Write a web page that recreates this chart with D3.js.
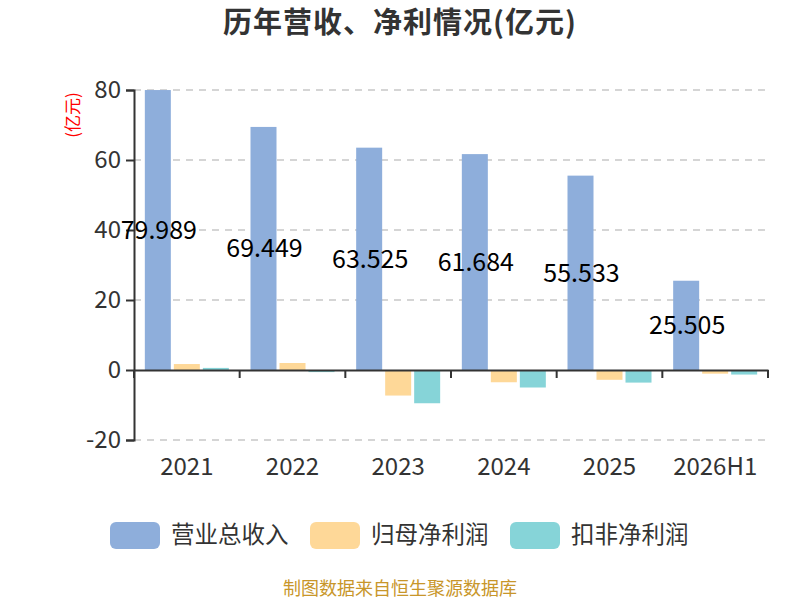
<!DOCTYPE html>
<html>
<head>
<meta charset="utf-8">
<script src="https://cdn.jsdelivr.net/npm/d3@7/dist/d3.min.js"></script>
<style>
body { margin: 0; background: #fff; }
text { font-family: "Noto Sans CJK SC", "Noto Sans", sans-serif; }
</style>
</head>
<body>
<div class="data_figure"></div>
<script>
const years = ["2021", "2022", "2023", "2024", "2025", "2026H1"];
const revenue = [79.989, 69.449, 63.525, 61.684, 55.533, 25.505];
const netProfit = [1.7, 2.0, -7.3, -3.5, -2.8, -1.05];
const deductedProfit = [0.6, -0.6, -9.5, -5.0, -3.6, -1.3];
const yTicks = [-20, 0, 20, 40, 60, 80];

const seriesNames = ["营业总收入", "归母净利润", "扣非净利润"];
const seriesColors = ["#8eaedb", "#fed898", "#86d4d8"];

const width = 800, height = 600;
const margin = { top: 90, bottom: 160, left: 134, right: 32 };

const series = [revenue, netProfit, deductedProfit];

const svg = d3.select(".data_figure")
    .append("svg")
    .attr("width", width)
    .attr("height", height);

const xScale = d3.scaleBand()
    .domain(years)
    .range([margin.left, width - margin.right]);

const yScale = d3.scaleLinear()
    .domain([-20, 80])
    .range([height - margin.bottom, margin.top]);

const barW = 26, barGap = 3;
const groupOffset = (xScale.bandwidth() - 3 * barW - 2 * barGap) / 2;

// gridlines
svg.append("g")
    .selectAll("line")
    .data(yTicks)
    .enter()
    .append("line")
    .attr("x1", margin.left)
    .attr("x2", width - margin.right)
    .attr("y1", d => yScale(d))
    .attr("y2", d => yScale(d))
    .attr("stroke", d => d === 0 ? "none" : "#c8c8c8")
    .attr("stroke-width", 1.5)
    .attr("stroke-dasharray", "7,6");

// bars
series.forEach((vals, si) => {
    svg.append("g")
        .selectAll("rect")
        .data(vals)
        .enter()
        .append("rect")
        .attr("x", (d, i) => xScale(years[i]) + groupOffset + si * (barW + barGap))
        .attr("y", d => yScale(Math.max(d, 0)))
        .attr("width", barW)
        .attr("height", d => Math.abs(yScale(d) - yScale(0)))
        .attr("fill", seriesColors[si]);
});

// y axis
const yAxis = svg.append("g")
    .attr("transform", "translate(" + margin.left + ",0)")
    .call(d3.axisLeft(yScale).tickValues(yTicks).tickSize(8).tickPadding(5)
        .tickFormat(d => String(d)));
yAxis.select(".domain").attr("stroke", "#333").attr("stroke-width", 2);
yAxis.selectAll(".tick line").attr("stroke", "#333").attr("stroke-width", 2);
yAxis.selectAll(".tick text")
    .attr("fill", "#333")
    .style("font-size", "24px")
    .style("font-family", "'Noto Sans CJK SC', sans-serif");

// x axis at zero
const xAxis = svg.append("g")
    .attr("transform", "translate(0," + yScale(0) + ")")
    .call(d3.axisBottom(xScale).tickSize(0).tickFormat(""));
xAxis.select(".domain").attr("stroke", "#333").attr("stroke-width", 2);

svg.append("g")
    .selectAll("line")
    .data(d3.range(years.length + 1))
    .enter()
    .append("line")
    .attr("x1", i => margin.left + i * xScale.step())
    .attr("x2", i => margin.left + i * xScale.step())
    .attr("y1", yScale(0))
    .attr("y2", yScale(0) + 8)
    .attr("stroke", "#333")
    .attr("stroke-width", 2);

svg.append("g")
    .selectAll("text")
    .data(years)
    .enter()
    .append("text")
    .attr("x", d => xScale(d) + xScale.bandwidth() / 2)
    .attr("y", yScale(-20) + 35)
    .attr("text-anchor", "middle")
    .attr("fill", "#333")
    .style("font-size", "24px")
    .text(d => d);

// revenue value labels
svg.append("g")
    .selectAll("text")
    .data(revenue)
    .enter()
    .append("text")
    .attr("x", (d, i) => xScale(years[i]) + groupOffset + barW / 2 + 1)
    .attr("y", d => (yScale(d) + yScale(0)) / 2)
    .attr("dy", "0.35em")
    .attr("text-anchor", "middle")
    .attr("fill", "#000")
    .style("font-size", "25px")
    .text(d => d.toFixed(3));

// title
svg.append("text")
    .attr("x", width / 2)
    .attr("y", 33)
    .attr("text-anchor", "middle")
    .attr("fill", "#333")
    .style("font-size", "29px")
    .style("font-weight", "bold")
    .style("letter-spacing", "1px")
    .text("历年营收、净利情况(亿元)");

// y unit
svg.append("text")
    .attr("transform", "translate(79,115) rotate(-90)")
    .attr("text-anchor", "middle")
    .attr("fill", "red")
    .style("font-size", "17px")
    .text("(亿元)");

// legend
const legendX = [110, 310, 510];
const legend = svg.append("g").attr("id", "legend");
legend.selectAll("rect")
    .data(seriesNames)
    .enter()
    .append("rect")
    .attr("x", (d, i) => legendX[i])
    .attr("y", 522)
    .attr("width", 50)
    .attr("height", 27)
    .attr("rx", 6)
    .attr("fill", (d, i) => seriesColors[i]);
legend.selectAll("text")
    .data(seriesNames)
    .enter()
    .append("text")
    .attr("x", (d, i) => legendX[i] + 61)
    .attr("y", 535)
    .attr("dy", "0.35em")
    .attr("fill", "#333")
    .style("font-size", "23.5px")
    .text(d => d);

// source
svg.append("text")
    .attr("x", width / 2)
    .attr("y", 595)
    .attr("text-anchor", "middle")
    .attr("fill", "#c8962a")
    .style("font-size", "18px")
    .text("制图数据来自恒生聚源数据库");
</script>
</body>
</html>
